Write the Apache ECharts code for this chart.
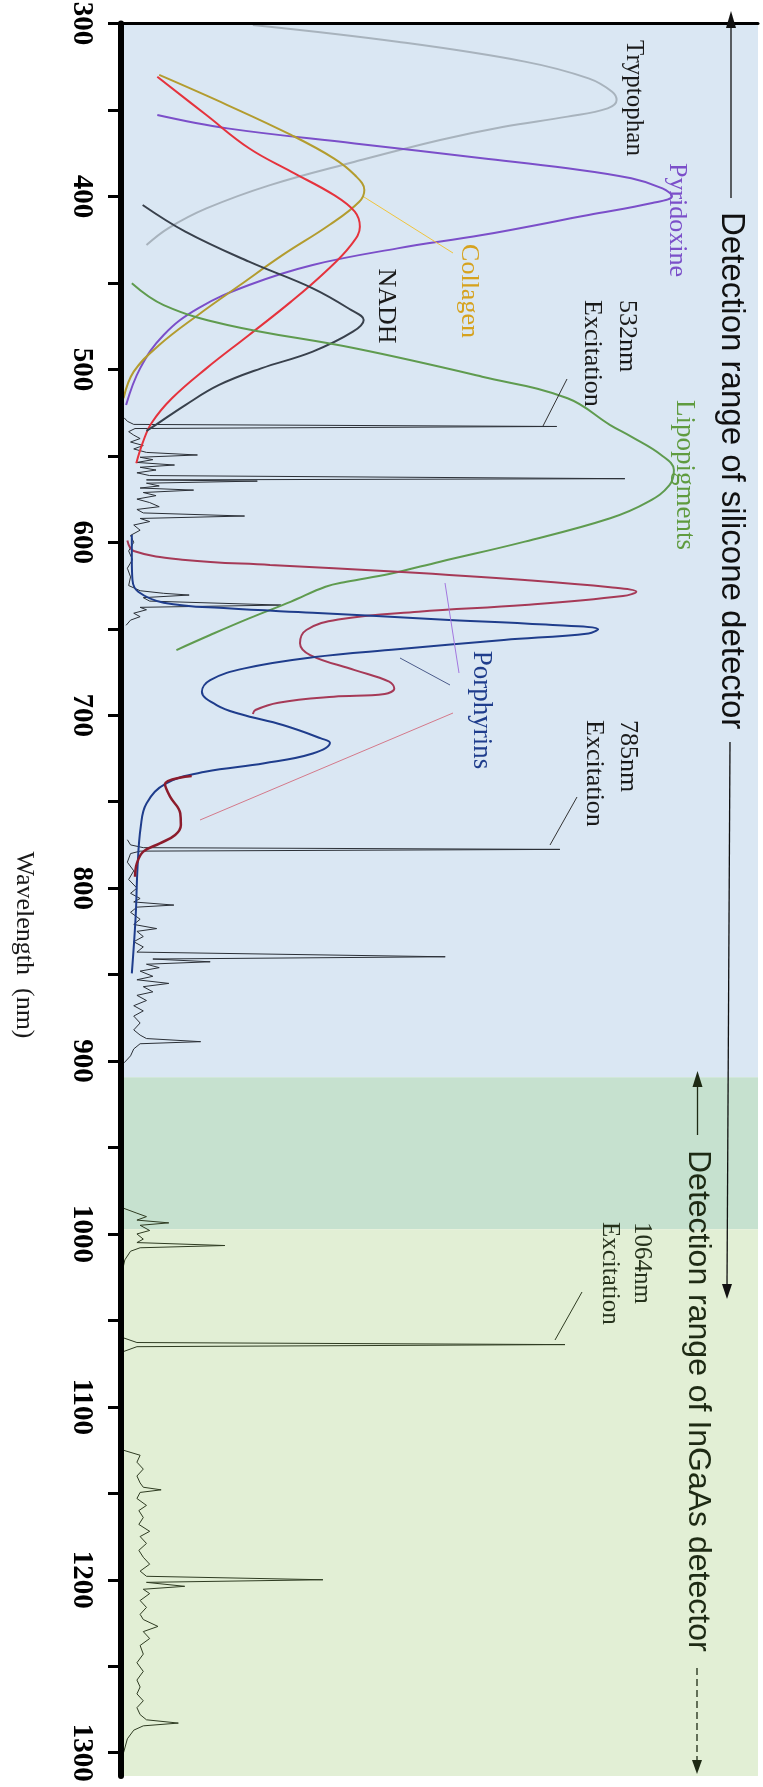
<!DOCTYPE html>
<html>
<head>
<meta charset="utf-8">
<title>Fluorophores and detection ranges</title>
<script src="https://cdn.jsdelivr.net/npm/echarts@6.0.0/dist/echarts.min.js"></script>
<style>
  html, body { margin: 0; padding: 0; background: #fff; }
  #chart { width: 763px; height: 1787px; }
</style>
</head>
<body>
<div id="chart"></div>
<script>
// every curve is a list of [intensity (a.u., 0-100), wavelength (nm)]
const tryptophan = [[20.7, 300.8], [43.4, 310.5], [63.4, 322.0], [73.4, 331.7], [77.1, 339.4], [77.8, 344.2], [76.4, 349.0], [70.1, 353.8], [60.1, 359.6], [50.1, 367.3], [36.7, 379.9], [23.4, 393.4], [13.4, 406.9], [7.4, 418.4], [4.0, 428.1]]
const pyridoxine = [[5.7, 352.9], [16.7, 360.6], [36.7, 369.3], [56.7, 377.9], [70.1, 383.7], [80.1, 389.5], [85.0, 395.3], [86.5, 399.8], [83.4, 403.8], [73.4, 410.7], [56.7, 422.3], [43.4, 430.0], [30.1, 439.6], [20.1, 451.2], [12.1, 464.7], [6.7, 480.1], [3.0, 499.4], [0.8, 520.6]]
const collagen = [[6.0, 329.7], [16.7, 347.1], [26.7, 364.4], [33.4, 377.9], [36.7, 387.6], [38.2, 396.2], [37.4, 403.0], [32.7, 416.5], [25.4, 433.8], [18.7, 451.2], [12.1, 468.5], [6.0, 485.9], [2.0, 501.3], [0.4, 516.7]]
const redCurve = [[5.7, 330.7], [13.4, 352.9], [20.1, 372.1], [26.7, 385.6], [33.4, 399.1], [36.7, 408.8], [37.5, 417.5], [36.1, 428.1], [32.1, 443.5], [26.7, 460.8], [20.1, 480.1], [13.4, 499.4], [8.0, 516.7], [4.8, 531.0], [3.4, 542.5], [2.4, 554.3]]
const nadh = [[3.4, 404.9], [10.1, 420.3], [20.1, 437.7], [30.1, 453.1], [36.1, 465.6], [38.1, 471.4], [36.4, 478.2], [30.1, 489.7], [22.0, 499.4], [15.4, 509.0], [10.1, 520.6], [5.4, 532.2], [4.0, 535.5]]
const lipopigments = [[1.7, 450.2], [6.7, 462.8], [16.7, 474.3], [36.7, 487.8], [56.7, 504.2], [70.1, 516.7], [76.8, 532.2], [80.1, 538.9], [84.8, 549.5], [86.8, 558.2], [86.1, 566.9], [82.8, 576.5], [76.8, 586.1], [63.4, 599.6], [50.1, 611.2], [42.1, 618.3], [35.4, 622.8], [32.1, 625.7], [26.7, 634.3], [20.1, 644.0], [14.0, 653.6], [8.7, 662.3]]
const porphyrinRed = [[1.0, 599.0], [2.0, 605.0], [10.1, 610.2], [23.4, 613.1], [43.4, 617.0], [63.4, 621.8], [76.8, 626.0], [80.9, 628.6], [78.8, 631.1], [63.4, 636.3], [46.7, 640.1], [34.1, 644.6], [29.1, 650.7], [28.1, 658.4], [29.7, 665.2], [36.7, 673.9], [42.1, 680.6], [42.9, 684.5], [41.4, 687.7], [33.4, 689.3], [24.7, 692.8], [21.1, 697.0], [20.7, 699.3]]
const porphyrinRedTail = [[11.1, 735.2], [6.9, 739.8], [7.7, 747.1], [9.3, 756.7], [9.4, 763.5], [8.5, 769.3], [6.1, 774.1], [3.5, 778.9], [2.5, 785.6], [2.2, 793.4]]
const porphyrinBlue = [[1.7, 595.8], [1.7, 610.0], [1.8, 621.8], [2.7, 628.6], [6.7, 634.9], [16.7, 638.2], [30.1, 640.7], [50.1, 644.6], [66.7, 647.6], [74.9, 650.3], [73.4, 652.7], [60.1, 656.5], [43.4, 661.9], [30.1, 666.5], [19.4, 672.9], [14.0, 679.7], [12.7, 686.4], [15.0, 694.1], [18.7, 699.3], [25.4, 705.7], [31.4, 713.4], [32.8, 715.9], [30.1, 722.1], [22.5, 727.8], [13.2, 732.7], [7.1, 739.4], [4.0, 751.0], [3.1, 764.5], [2.6, 787.6], [2.3, 816.5], [1.7, 849.3]]

// Raman spectra
const raman532 = [[0.5, 528], [1.0, 530], [2.0, 531.8], [68.4, 533], [2.2, 534.2], [1.2, 536], [2.0, 538], [3.0, 540], [1.5, 542], [3.5, 544], [2.0, 546], [4.0, 548], [12.0, 549.5], [3.0, 550.8], [5.0, 552.2], [2.5, 553.8], [8.4, 555.3], [3.0, 556.6], [5.5, 558.2], [2.5, 559.8], [4.5, 561.4], [79.1, 563.2], [4.0, 563.9], [21.4, 564.6], [4.0, 565.8], [6.0, 567.4], [3.0, 568.6], [11.4, 569.8], [3.5, 571.2], [5.5, 573], [2.5, 575], [4.5, 577], [6.0, 579.4], [2.5, 581], [3.5, 583], [19.4, 584.8], [3.0, 586.2], [4.5, 588], [2.0, 590], [3.0, 593], [1.5, 596], [2.0, 600], [1.2, 605], [1.8, 610], [1.0, 615], [1.5, 620], [1.2, 625], [3.0, 628], [6.7, 629.5], [10.7, 630.5], [3.5, 632], [4.5, 634], [25.1, 636.3], [3.0, 637.6], [4.0, 639], [2.0, 641], [3.0, 643], [1.5, 645], [0.8, 648]]
const raman785 = [[1.0, 772], [1.5, 775], [3.5, 776.6], [68.9, 777.6], [3.0, 778.6], [1.5, 780], [1.0, 785], [2.0, 790], [1.2, 795], [2.5, 800], [1.5, 803], [3.0, 806], [2.0, 808], [8.3, 809.8], [2.5, 811], [1.5, 814], [3.0, 818], [2.0, 821], [5.6, 823.4], [2.5, 825], [3.5, 828], [2.0, 831], [3.5, 834], [2.5, 837], [50.9, 839.7], [5.0, 841], [14.0, 842.6], [4.0, 844], [6.0, 846], [3.0, 848], [5.0, 851], [2.5, 853], [7.5, 855.1], [3.5, 857], [5.0, 860], [2.5, 862], [4.0, 865], [2.0, 868], [3.5, 871], [2.0, 874], [3.0, 878], [2.0, 882], [3.0, 885], [4.0, 887], [12.5, 888.8], [3.0, 890], [2.0, 893], [1.5, 897], [0.5, 901]]
const raman1064 = [[0.3, 985], [2.5, 988], [4.0, 990], [2.5, 992], [7.5, 993.6], [3.0, 995], [4.5, 998], [2.5, 1000], [3.5, 1003], [2.5, 1005], [16.3, 1006.7], [3.0, 1008], [1.5, 1010], [0.6, 1015], [0.3, 1020], [0.3, 1030], [0.2, 1040], [0.3, 1050], [0.3, 1060], [2.5, 1062.8], [69.7, 1064], [2.5, 1065.2], [0.4, 1068], [0.2, 1072]]
const raman1064b = [[0.3, 1125], [3.0, 1128], [2.5, 1132], [3.5, 1136], [2.5, 1140], [3.0, 1144], [3.5, 1146.5], [6.3, 1148], [3.0, 1149.5], [2.5, 1153], [4.0, 1157], [2.8, 1160], [3.5, 1164], [2.8, 1168], [4.5, 1172], [3.0, 1175], [4.0, 1179], [2.8, 1183], [3.5, 1187], [4.5, 1191], [3.0, 1195], [4.0, 1198], [31.7, 1200], [4.0, 1201.5], [10.0, 1203.8], [3.5, 1205.5], [4.5, 1208], [3.0, 1212], [4.0, 1216], [3.0, 1220], [3.5, 1223], [5.8, 1227], [3.5, 1230], [4.5, 1234], [3.0, 1238], [3.5, 1243], [2.5, 1248], [3.5, 1253], [2.5, 1258], [3.0, 1262], [2.5, 1266], [3.5, 1270], [2.5, 1274], [3.0, 1278], [4.0, 1281], [9.0, 1282.9], [3.5, 1284.5], [2.0, 1287], [1.0, 1292], [0.4, 1300]]

// detector ranges (nm)
const siliconOnly = [300, 909.4]
const overlap = [909.4, 997.3]
const ingaasOnly = [997.3, 1313.5]

// axis ticks
const tickValues = [300, 350, 400, 450, 500, 550, 600, 650, 700, 750, 800, 850, 900, 950, 1000, 1050, 1100, 1150, 1200, 1250, 1300]
const labelValues = [300, 400, 500, 600, 700, 800, 900, 1000, 1100, 1200, 1300]

const chart = echarts.init(document.getElementById('chart'))

function curve (name, data, color, width) {
  return {
    name: name,
    type: 'line',
    data: data,
    smooth: 0.4,
    showSymbol: false,
    silent: true,
    z: 3,
    lineStyle: { color: color, width: width }
  }
}

function spectrum (name, data, color) {
  return {
    name: name,
    type: 'line',
    data: data,
    showSymbol: false,
    silent: true,
    z: 2,
    lineStyle: { color: color, width: 1 }
  }
}

// rotated (clockwise) label
function vtext (x, y, text, color, size, family, align, lineHeight) {
  return {
    type: 'text',
    x: x,
    y: y,
    rotation: -Math.PI / 2,
    z: 20,
    silent: true,
    style: {
      text: text,
      fill: color,
      fontSize: size,
      fontFamily: family,
      align: align || 'center',
      verticalAlign: 'middle',
      lineHeight: lineHeight || size
    }
  }
}

function seg (x1, y1, x2, y2, color, width, dash) {
  return {
    type: 'line',
    z: 20,
    silent: true,
    shape: { x1: x1, y1: y1, x2: x2, y2: y2 },
    style: { stroke: color, lineWidth: width || 1, lineDash: dash || null }
  }
}

function head (points, color) {
  return { type: 'polygon', z: 20, silent: true, shape: { points: points }, style: { fill: color } }
}

const serif = 'Liberation Serif'
const sans = 'Liberation Sans'

const options = {
  animation: false,
  backgroundColor: '#fff',
  grid: { left: 121, right: 5, top: 23.6, bottom: 11, containLabel: false, outerBoundsMode: 'none' },
  xAxis: {
    type: 'value',
    position: 'top',
    min: 0,
    max: 100,
    z: 10,
    axisLine: { show: true, onZero: false, lineStyle: { color: '#000', width: 3 } },
    axisTick: { show: false },
    axisLabel: { show: false },
    splitLine: { show: false }
  },
  yAxis: {
    type: 'value',
    inverse: true,
    min: 300,
    max: 1313.5,
    z: 10,
    axisLine: { show: true, onZero: false, lineStyle: { color: '#000', width: 6 } },
    axisTick: { show: true, length: 13, customValues: tickValues, lineStyle: { color: '#000', width: 3 } },
    axisLabel: {
      customValues: labelValues,
      formatter: function (v) { return String(v) },
      rotate: -90,
      margin: 25,
      color: '#000',
      fontFamily: serif,
      fontWeight: 'bold',
      fontSize: 29
    },
    splitLine: { show: false }
  },
  series: [
    {
      name: 'ranges',
      type: 'line',
      data: [],
      silent: true,
      markArea: {
        silent: true,
        itemStyle: { opacity: 1 },
        data: [
          [{ yAxis: siliconOnly[0], itemStyle: { color: '#dae7f3' } }, { yAxis: siliconOnly[1] }],
          [{ yAxis: overlap[0], itemStyle: { color: '#c6e1cf' } }, { yAxis: overlap[1] }],
          [{ yAxis: ingaasOnly[0], itemStyle: { color: '#e2efd5' } }, { yAxis: ingaasOnly[1] }]
        ]
      }
    },
    spectrum('Raman 532', raman532, '#2b3037'),
    spectrum('Raman 785', raman785, '#2b3037'),
    spectrum('Raman 1064', raman1064, '#2f3c22'),
    spectrum('Raman 1064 NIR', raman1064b, '#2f3c22'),
    curve('Tryptophan', tryptophan, '#a8b3bd', 2),
    curve('Pyridoxine', pyridoxine, '#7b4fc9', 2),
    curve('Collagen', collagen, '#b39c2f', 2),
    curve('Red', redCurve, '#e5333d', 2),
    curve('NADH', nadh, '#39414c', 2),
    curve('Lipopigments', lipopigments, '#5f9b4f', 2),
    curve('Porphyrins (red)', porphyrinRed, '#a63a57', 2),
    curve('Porphyrins (blue)', porphyrinBlue, '#1f3d8c', 2),
    curve('Porphyrins (tail)', porphyrinRedTail, '#8c1c2c', 2.5)
  ],
  graphic: [
    // curve labels
    vtext(633.5, 98, 'Tryptophan', '#1a1a1a', 25, serif),
    vtext(677, 220, 'Pyridoxine', '#7b4fc9', 26, serif),
    vtext(468.5, 291, 'Collagen', '#d6a21e', 26, serif),
    vtext(385.5, 306, 'NADH', '#1a1a1a', 26, serif),
    vtext(609, 300, '532nm\nExcitation', '#1a1a1a', 26, serif, 'left', 35),
    vtext(684.5, 475, 'Lipopigments', '#5f9b3f', 27, serif),
    vtext(481.5, 710, 'Porphyrins', '#1f3d8c', 27, serif),
    vtext(611, 720, '785nm\nExcitation', '#1a1a1a', 26, serif, 'left', 34),
    vtext(626, 1222, '1064nm\nExcitation', '#26321c', 25, serif, 'left', 32),
    vtext(24, 945, 'Wavelength  (nm)', '#1a1a1a', 26, serif),
    // leader lines
    seg(364, 197, 453, 253, '#f0c43c', 1),
    seg(567, 379, 543, 426, '#333', 1),
    seg(577, 797, 550, 845, '#333', 1),
    seg(582, 1292, 555, 1340, '#2f3c22', 1),
    seg(445, 583, 459, 673, '#a377e0', 1),
    seg(400, 658, 450, 685, '#4b5b8a', 1),
    seg(453, 713, 200, 820, '#d4798a', 1),
    // silicon detector range
    head([[731, 11], [726, 28], [736, 28]], '#111'),
    seg(731, 28, 731, 198, '#111', 1.3),
    vtext(731, 212, 'Detection range of silicone detector', '#111', 33, sans, 'left'),
    seg(730, 742, 727, 1286, '#111', 1.3),
    head([[722, 1284], [732, 1284], [727, 1299]], '#111'),
    // InGaAs detector range
    head([[697.5, 1071], [692.5, 1087], [702.5, 1087]], '#1e2a14'),
    seg(697.5, 1087, 697.5, 1135, '#1e2a14', 1.3),
    vtext(697.5, 1150, 'Detection range of InGaAs detector', '#1e2a14', 32, sans, 'left'),
    seg(697, 1668, 697, 1761, '#1e2a14', 1.3, [7, 4]),
    head([[692, 1760], [702, 1760], [697, 1774]], '#1e2a14')
  ]
}

chart.setOption(options)
</script>
</body>
</html>
